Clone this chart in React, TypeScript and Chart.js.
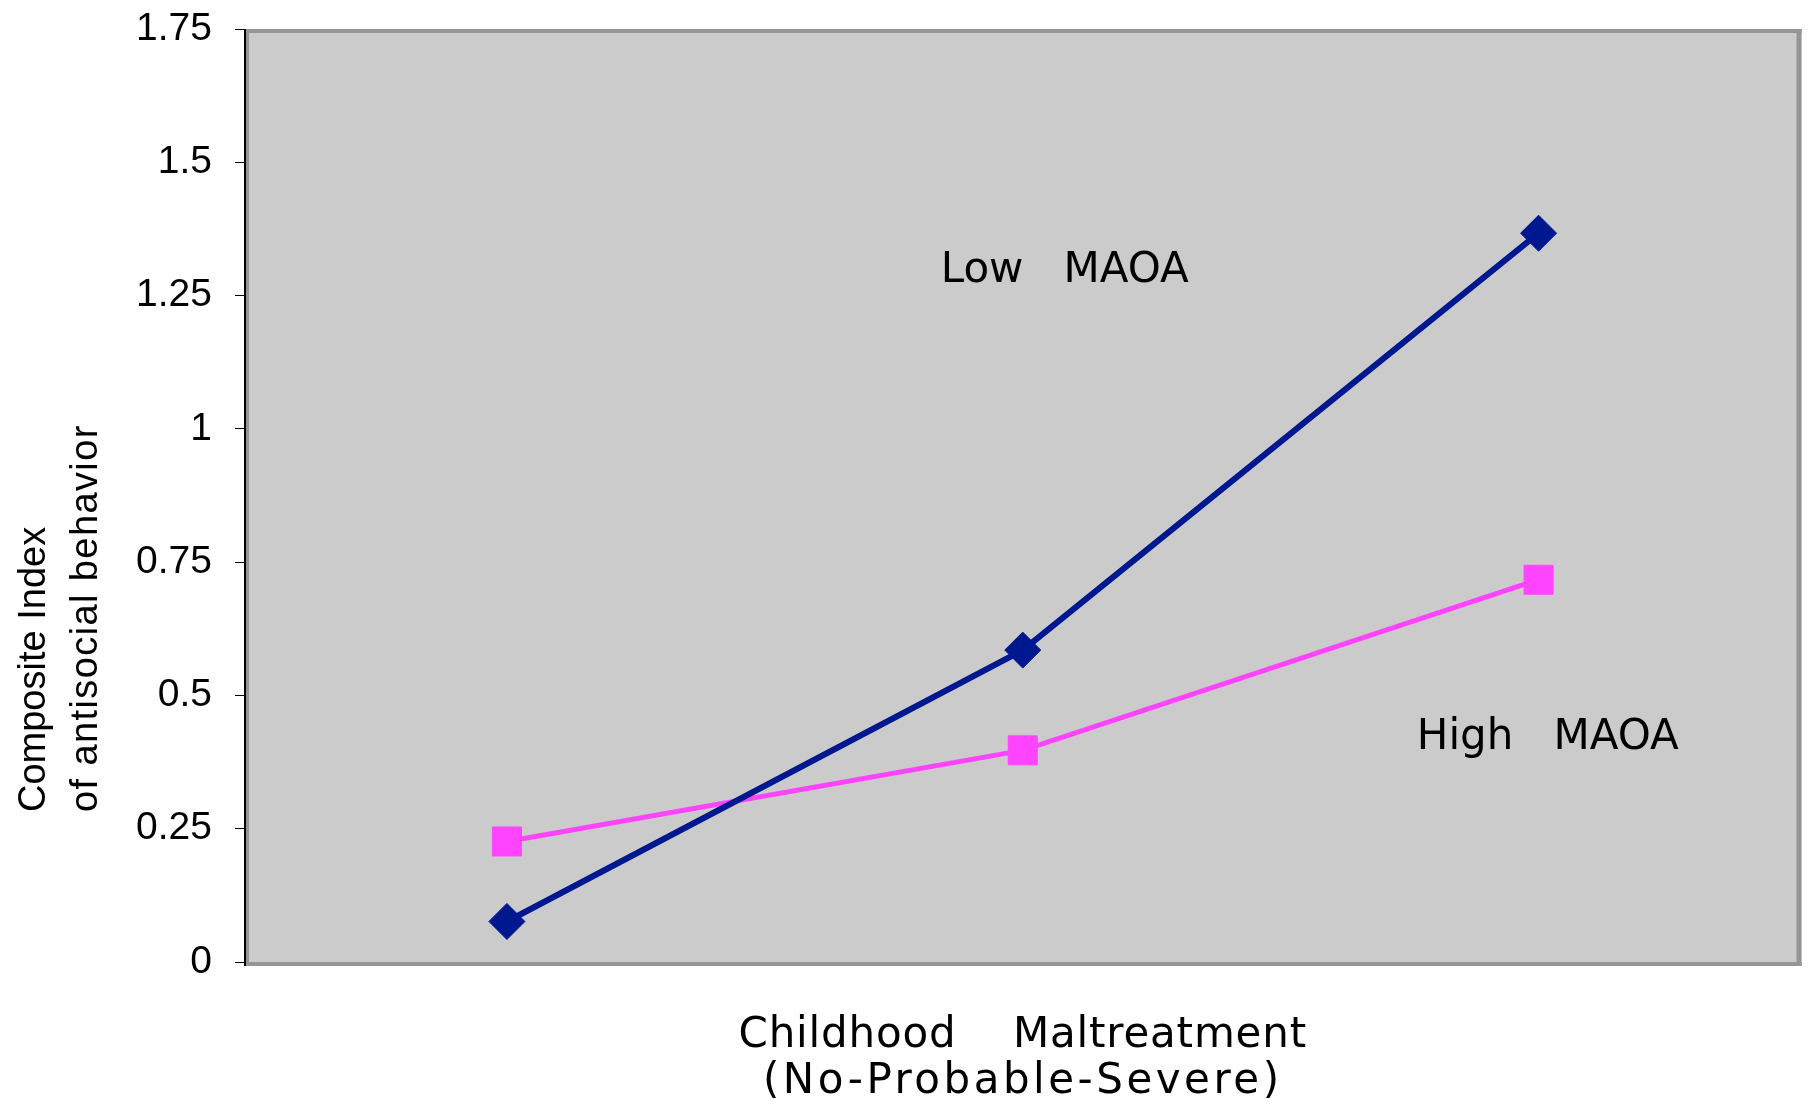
import React, { useEffect, useRef } from "react";
import { Chart, registerables } from "chart.js";

Chart.register(...registerables);

// ---- data ----
const categories = ["No", "Probable", "Severe"];
const lowMAOA = [0.076, 0.585, 1.367];
const highMAOA = [0.226, 0.397, 0.717];
const yTickValues = [0, 0.25, 0.5, 0.75, 1, 1.25, 1.5, 1.75];
const yTickLabels = ["0", "0.25", "0.5", "0.75", "1", "1.25", "1.5", "1.75"];
const yTitleLines = ["Composite Index", "of antisocial behavior"];
const xTitleLines = ["Childhood    Maltreatment", "(No-Probable-Severe)"];
// annotation labels: text, category position (fractional index), value (baseline)
const annotationTexts = ["Low   MAOA", "High   MAOA"];
const annotationX = [0.841, 1.764];
const annotationY = [1.276, 0.4];

const W = 1818;
const H = 1108;

const NAVY = "#00188f";
const PINK = "#ff44ff";
const FRAME = "#959595";

const plotBgPlugin = {
  id: "plotBg",
  beforeDraw(chart: any) {
    const { ctx, chartArea } = chart;
    const { left, top, right, bottom } = chartArea;
    ctx.save();
    ctx.fillStyle = "#cbcbcb";
    ctx.fillRect(left - 4, top, right - left + 9, bottom - top + 4);
    ctx.restore();
  },
  beforeDatasetsDraw(chart: any) {
    const { ctx, chartArea } = chart;
    const { left, top, right, bottom } = chartArea;
    ctx.save();
    ctx.fillStyle = FRAME;
    // top strip (inside), right, bottom and left strips (outside)
    ctx.fillRect(left - 4, top, right - left + 9, 4);
    ctx.fillRect(right, top, 5, bottom - top + 4);
    ctx.fillRect(left - 4, bottom, right - left + 9, 4);
    ctx.fillRect(left - 3, top, 3, bottom - top + 4);
    // black value axis line
    ctx.fillStyle = "#000";
    ctx.fillRect(left - 5, top, 2, bottom - top + 4);
    ctx.restore();
  },
};

const textPlugin = {
  id: "texts",
  afterDraw(chart: any) {
    const { ctx, scales, chartArea } = chart;
    ctx.save();
    ctx.fillStyle = "#000";
    ctx.textBaseline = "alphabetic";

    // y title (start aligned, rotated)
    ctx.font = "38px 'Liberation Sans', Arial, sans-serif";
    ctx.textAlign = "left";
    const yBaselines = [45, 97];
    const ySpacing = ["0px", "1.4px"];
    yTitleLines.forEach((line, i) => {
      ctx.save();
      (ctx as any).letterSpacing = ySpacing[i];
      ctx.translate(yBaselines[i], 812);
      ctx.rotate(-Math.PI / 2);
      ctx.fillText(line, 0, 0);
      ctx.restore();
    });

    // x title (centered under plot area)
    ctx.font = "42px 'DejaVu Sans', sans-serif";
    ctx.textAlign = "center";
    const cx = (chartArea.left + chartArea.right) / 2;
    const xBaselines = [1047, 1093];
    const xSpacing = ["0.8px", "3.5px"];
    xTitleLines.forEach((line, i) => {
      ctx.save();
      (ctx as any).letterSpacing = xSpacing[i];
      ctx.fillText(line, cx, xBaselines[i]);
      ctx.restore();
    });

    // annotations
    ctx.font = "42px 'DejaVu Sans', sans-serif";
    ctx.textAlign = "left";
    annotationTexts.forEach((t, i) => {
      const x = scales.x.getPixelForValue(annotationX[i]);
      const y = scales.y.getPixelForValue(annotationY[i]);
      ctx.fillText(t, x, y);
    });
    ctx.restore();
  },
};

export default function App() {
  const ref = useRef<HTMLCanvasElement | null>(null);

  useEffect(() => {
    document.body.style.margin = "0";
    document.body.style.overflow = "hidden";
    const canvas = ref.current;
    if (!canvas) return;
    const chart = new Chart(canvas, {
      type: "line",
      data: {
        labels: categories,
        datasets: [
          {
            label: "Low MAOA",
            data: lowMAOA,
            borderColor: NAVY,
            backgroundColor: NAVY,
            borderWidth: 6,
            pointStyle: "rectRot",
            pointRadius: 18,
            pointBorderWidth: 1,
            pointBackgroundColor: NAVY,
            pointBorderColor: NAVY,
            tension: 0,
          },
          {
            label: "High MAOA",
            data: highMAOA,
            borderColor: PINK,
            backgroundColor: PINK,
            borderWidth: 5,
            pointStyle: "rect",
            pointRadius: 20.5,
            pointBorderWidth: 1,
            pointBackgroundColor: PINK,
            pointBorderColor: PINK,
            tension: 0,
          },
        ],
      },
      options: {
        animation: false,
        responsive: false,
        devicePixelRatio: 1,
        layout: { padding: { top: 29, right: 21, left: 0, bottom: 0 } },
        plugins: {
          legend: { display: false },
          tooltip: { enabled: false },
        },
        scales: {
          x: {
            type: "category",
            offset: true,
            grid: { display: false },
            border: { display: false },
            ticks: { display: false },
            title: { display: false },
            afterFit: (s: any) => {
              s.height = 146;
            },
          },
          y: {
            min: 0,
            max: 1.75,
            afterBuildTicks: (s: any) => {
              s.ticks = yTickValues.map((v) => ({ value: v }));
            },
            grid: {
              drawOnChartArea: false,
              drawTicks: true,
              tickLength: 14,
              color: "#000",
              lineWidth: 1,
            },
            border: { display: false },
            ticks: {
              color: "#000",
              padding: 23,
              font: { family: "'Liberation Sans', Arial, sans-serif", size: 39 },
              callback: (v: any) => {
                const idx = yTickValues.indexOf(Number(v));
                return idx >= 0 ? yTickLabels[idx] : String(v);
              },
            },
            afterFit: (s: any) => {
              s.width = 249;
              s.paddingTop = 0;
              s.paddingBottom = 0;
            },
          },
        },
      },
      plugins: [plotBgPlugin, textPlugin],
    });
    return () => chart.destroy();
  }, []);

  return (
    <div style={{ width: W, height: H }}>
      <canvas ref={ref} width={W} height={H} style={{ display: "block" }} />
    </div>
  );
}
